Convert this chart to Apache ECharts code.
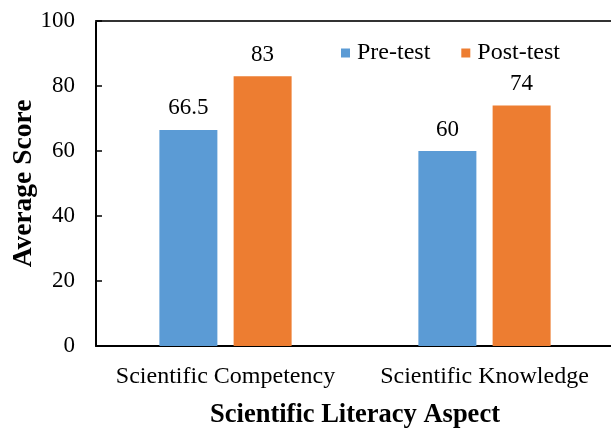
<!DOCTYPE html>
<html><head><meta charset="utf-8">
<script src="https://cdn.jsdelivr.net/npm/echarts@6/dist/echarts.min.js"></script>
<style>html,body{margin:0;padding:0;background:#fff;overflow:hidden}#c{width:611px;height:428px}</style>
</head><body><div id="c"></div>
<script>
var categories = ['Scientific Competency', 'Scientific Knowledge'];
var preTest = [66.5, 60];
var postTest = [83, 74];
var yTicks = [0, 20, 40, 60, 80, 100];
var F = "'Liberation Serif','Times New Roman',serif";
var chart = echarts.init(document.getElementById('c'));
chart.setOption({
  animation: false,
  textStyle: {fontFamily: F, color: '#000'},
  legend: {
    left: 336, top: 36, itemWidth: 9, itemHeight: 9, itemGap: 31,
    icon: 'rect',
    textStyle: {fontFamily: F, fontSize: 24, color: '#000', padding: [0,0,0,2]},
    data: ['Pre-test', 'Post-test']
  },
  grid: {left: 96, top: 21, right: -3, bottom: 82, containLabel: false, outerBoundsMode: 'none'},
  xAxis: [{
    type: 'category', data: categories,
    axisLine: {lineStyle: {color: '#000', width: 2}},
    axisTick: {show: false},
    axisLabel: {fontFamily: F, fontSize: 24, color: '#000', margin: 19, interval: 0, hideOverlap: false},
    name: 'Scientific Literacy Aspect', nameLocation: 'middle', nameGap: 56, nameMoveOverlap: false,
    nameTextStyle: {fontFamily: F, fontSize: 26.5, fontWeight: 'bold', color: '#000'}
  }, {
    type: 'category', data: categories, position: 'top',
    axisLine: {show: true, lineStyle: {color: '#333', width: 2}},
    axisTick: {show: false}, axisLabel: {show: false}
  }],
  yAxis: {
    type: 'value', min: 0, max: 100, interval: 20,
    axisLine: {show: true, lineStyle: {color: '#000', width: 2}},
    axisTick: {show: true, inside: true, length: 6, lineStyle: {color: '#000', width: 1.5}},
    splitLine: {show: false},
    axisLabel: {fontFamily: F, fontSize: 23, color: '#000', margin: 21,
      formatter: function (v) { return yTicks.indexOf(v) >= 0 ? String(v) : ''; }},
    name: 'Average Score', nameLocation: 'middle', nameGap: 58, nameMoveOverlap: false,
    nameTextStyle: {fontFamily: F, fontSize: 27.5, fontWeight: 'bold', color: '#000'}
  },
  series: [{
    name: 'Pre-test', type: 'bar', data: preTest, barWidth: 58, barGap: '28%',
    itemStyle: {color: '#5B9BD5'},
    label: {show: true, position: 'top', distance: 10, fontFamily: F, fontSize: 23, color: '#000'}
  }, {
    name: 'Post-test', type: 'bar', data: postTest, barWidth: 58,
    itemStyle: {color: '#ED7D31'},
    label: {show: true, position: 'top', distance: 10, fontFamily: F, fontSize: 23, color: '#000'}
  }]
});
</script></body></html>
